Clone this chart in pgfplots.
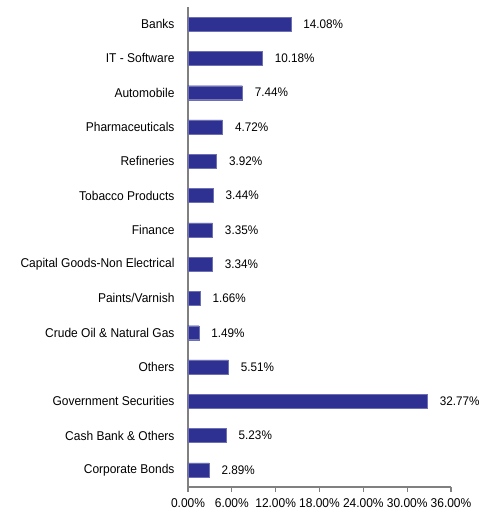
\documentclass[border=0pt]{standalone}
\usepackage{pgfplots}
\pgfplotsset{compat=1.18}
\usepackage{fontspec}
\setmainfont{Liberation Sans}[FakeStretch=0.94]
\definecolor{barblue}{RGB}{46,49,146}
\definecolor{axgray}{RGB}{128,128,128}
\begin{document}
\begin{tikzpicture}
\begin{axis}[
  name=ax,
  scale only axis,
  width=263bp, height=480bp,
  xmin=0, xmax=36,
  ymin=-0.5, ymax=13.5,
  xbar, bar width=14bp,
  axis lines*=left,
  axis line style={axgray, line width=1.2pt},
  xtick={0,6,...,36},
  tick align=outside,
  xtick style={axgray, line width=1.2pt},
  major tick length=5bp,
  ytick={0,...,13},
  ytick style={draw=none},
  yticklabels={Corporate Bonds,Cash Bank \& Others,Government Securities,Others,Crude Oil \& Natural Gas,Paints/Varnish,Capital Goods-Non Electrical,Finance,Tobacco Products,Refineries,Pharmaceuticals,Automobile,IT - Software,Banks},
  /pgf/number format/assume math mode=true,
  xticklabel={\pgfmathprintnumber[fixed,fixed zerofill,precision=2]{\tick}\%},
  ticklabel style={font=\fontsize{12.8}{14}\selectfont, text=black},
  yticklabel style={xshift=-5bp},
  xticklabel style={yshift=-3bp},
  point meta=x,
  nodes near coords={\pgfmathprintnumber[fixed,fixed zerofill,precision=2]{\pgfplotspointmeta}\%},
  nodes near coords style={font=\fontsize{12.5}{14}\selectfont, anchor=west, xshift=9bp},
  clip=false,
]
\addplot[fill=barblue, draw=barblue!70!white] coordinates {
(2.89,0) (5.23,1) (32.77,2) (5.51,3) (1.49,4) (1.66,5) (3.34,6) (3.35,7) (3.44,8) (3.92,9) (4.72,10) (7.44,11) (10.18,12) (14.08,13)
};
\end{axis}
\path[use as bounding box] ([xshift=-188bp,yshift=487bp]ax.south west) rectangle ([xshift=292bp,yshift=-25bp]ax.south west);
\end{tikzpicture}
\end{document}
